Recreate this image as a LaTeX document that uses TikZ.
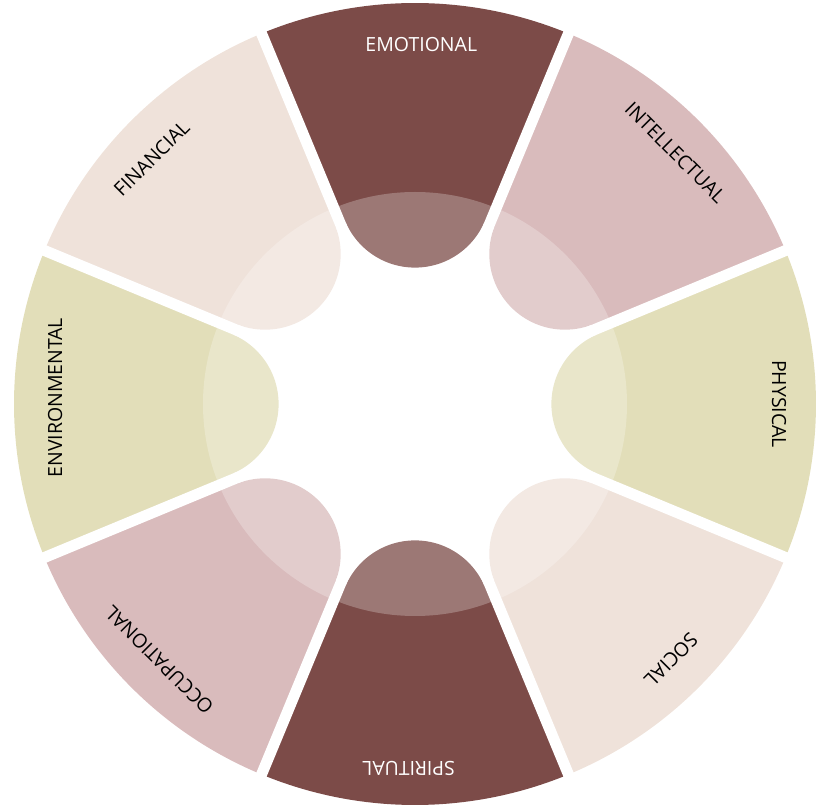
\documentclass[tikz,border=0pt]{standalone}
\usepackage{fontspec}
\setmainfont{Open Sans}

\definecolor{wineRed}{HTML}{7C4B48}
\definecolor{dustyPink}{HTML}{D9BBBC}
\definecolor{paleOlive}{HTML}{E2DEB9}
\definecolor{sandBeige}{HTML}{EFE2DA}

\tikzstyle{wheeltext} = [inner sep = 0pt, font = \fontsize{19.5}{20}\selectfont]
\tikzstyle{gap} = [white, line width = 11pt]

% one piece of the wheel: #1 = middle angle, #2 = colour
\newcommand{\wheelpiece}[2]{%
	\fill [#2] (#1-22.5:196pt) -- (#1-22.5:401pt)
		arc [start angle = #1-22.5, end angle = #1+22.5, radius = 401pt]
		-- (#1+22.5:196pt) -- cycle;
	\fill [#2] (#1:212pt) circle (75.6pt);
}

\begin{document}
\begin{tikzpicture}

\useasboundingbox (-415pt,-401pt) rectangle (405pt,404pt);

\wheelpiece{90}{wineRed}
\wheelpiece{45}{dustyPink}
\wheelpiece{0}{paleOlive}
\wheelpiece{-45}{sandBeige}
\wheelpiece{-90}{wineRed}
\wheelpiece{-135}{dustyPink}
\wheelpiece{180}{paleOlive}
\wheelpiece{135}{sandBeige}

% white gaps between the pieces
\draw [gap] (0,0) -- (22.5:410pt) (0,0) -- (67.5:410pt)
	(0,0) -- (112.5:410pt) (0,0) -- (157.5:410pt)
	(0,0) -- (202.5:410pt) (0,0) -- (247.5:410pt)
	(0,0) -- (292.5:410pt) (0,0) -- (337.5:410pt);

% lighter inner ring
\fill [white, opacity = 0.25] (0,0) circle (212pt);

\node (emotional) [wheeltext, white, rotate = 0] at (89:360pt) {EMOTIONAL};
\node (intellectual) [wheeltext, black, rotate = -45] at (44:362pt) {INTELLECTUAL};
\node (physical) [wheeltext, black, rotate = -90] at (0:364pt) {PHYSICAL};
\node (social) [wheeltext, black, rotate = -135] at (-45:362pt) {SOCIAL};
\node (spiritual) [wheeltext, white, rotate = 180] at (-91:365pt) {SPIRITUAL};
\node (occupational) [wheeltext, black, rotate = 135] at (-135:362pt) {OCCUPATIONAL};
\node (environmental) [wheeltext, black, rotate = 90] at (179:360pt) {ENVIRONMENTAL};
\node (financial) [wheeltext, black, rotate = 45] at (137:360pt) {FINANCIAL};

\end{tikzpicture}
\end{document}
